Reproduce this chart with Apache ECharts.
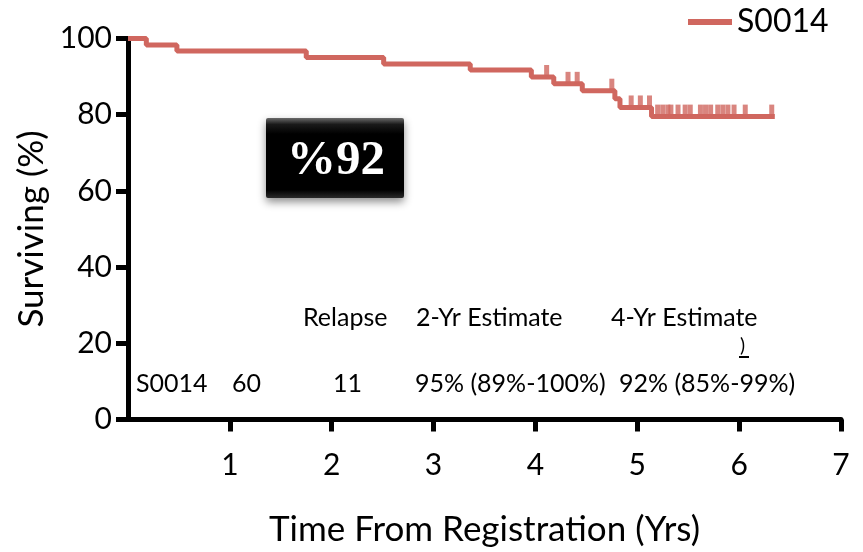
<!DOCTYPE html>
<html>
<head>
<meta charset="utf-8">
<script src="https://cdn.jsdelivr.net/npm/echarts@6/dist/echarts.min.js"></script>
<style>
html,body{margin:0;padding:0;background:#fff;}
#chart{width:863px;height:552px;}
</style>
</head>
<body>
<div id="chart"></div>
<script>
// Kaplan-Meier step points (time in years, survival %)
const eventTimes = [0, 0.18, 0.48, 1.75, 2.51, 3.36, 3.96, 4.18, 4.46, 4.78, 4.83, 5.14, 6.35];
const survival   = [100, 98.3, 96.7, 95.0, 93.3, 91.7, 89.9, 88.1, 86.3, 84.2, 81.9, 79.5, 79.5];
// censored observations (time in years)
const censorTimes = [4.11, 4.32, 4.41, 4.75, 4.94, 5.03, 5.12, 5.20, 5.25, 5.30, 5.33, 5.40, 5.47,
                     5.52, 5.62, 5.67, 5.72, 5.79, 5.84, 5.89, 5.95, 6.06, 6.32];
const xTicks = [1, 2, 3, 4, 5, 6, 7];
const yTicks = [0, 20, 40, 60, 80, 100];
const seriesName = 'S0014';
const tableHeader = ['Relapse', '2-Yr Estimate', '4-Yr Estimate'];
const tableRow = ['S0014', '60', '11', '95% (89%-100%)', '92% (85%-99%)'];
const boxLabel = '%92';

const lineColor = '#d0675f';
const font = 'Lato, "Open Sans", sans-serif';

function levelAt(t) {
  let v = survival[0];
  for (let i = 0; i < eventTimes.length; i++) {
    if (eventTimes[i] <= t) v = survival[i];
  }
  return v;
}

const kmData = eventTimes.map((t, i) => [t, survival[i]]);
const censorData = censorTimes.map(t => [t, levelAt(t)]);

const chart = echarts.init(document.getElementById('chart'));
chart.setOption({
  animation: false,
  backgroundColor: '#fff',
  grid: { left: 128, right: 22, top: 38.5, bottom: 132.5, outerBoundsMode: 'none' },
  legend: {
    data: [seriesName],
    left: 683, top: 1,
    icon: 'rect', itemWidth: 44, itemHeight: 6, itemGap: 10,
    textStyle: { fontFamily: font, fontSize: 32, color: '#000', padding: [0, 0, 0, 0] }
  },
  xAxis: {
    type: 'value', min: 0, max: 7, interval: 1,
    name: 'Time From Registration (Yrs)', nameLocation: 'middle', nameGap: 93,
    nameTextStyle: { fontFamily: font, fontSize: 35, color: '#000' },
    axisLine: { show: true, lineStyle: { color: '#000', width: 5 } },
    axisTick: { show: true, length: 12, lineStyle: { color: '#000', width: 5 }, customValues: xTicks },
    axisLabel: { fontFamily: font, fontSize: 30, color: '#000', margin: 31, customValues: xTicks },
    splitLine: { show: false }
  },
  yAxis: {
    type: 'value', min: 0, max: 100, interval: 20,
    name: 'Surviving (%)', nameLocation: 'middle', nameGap: 74, nameRotate: 90,
    nameTextStyle: { fontFamily: font, fontSize: 35, color: '#000' },
    axisLine: { show: true, lineStyle: { color: '#000', width: 5 } },
    axisTick: { show: true, length: 12, lineStyle: { color: '#000', width: 5 }, customValues: yTicks },
    axisLabel: { fontFamily: font, fontSize: 30, color: '#000', margin: 16, customValues: yTicks },
    splitLine: { show: false }
  },
  series: [
    {
      name: seriesName, type: 'line', step: 'end', data: kmData,
      showSymbol: false, symbol: 'none',
      lineStyle: { color: lineColor, width: 5 }, itemStyle: { color: lineColor },
      z: 3
    },
    {
      name: 'censored', type: 'scatter', data: censorData,
      symbol: 'rect', symbolSize: [5, 12], symbolOffset: [0, -6],
      itemStyle: { color: lineColor }, z: 3
    }
  ],
  graphic: [
    { type: 'text', left: 303, top: 305, style: { text: tableHeader[0], font: '25px ' + font, fill: '#000' } },
    { type: 'text', left: 416, top: 305, style: { text: tableHeader[1], font: '25px ' + font, fill: '#000' } },
    { type: 'text', left: 611, top: 305, style: { text: tableHeader[2], font: '25px ' + font, fill: '#000' } },
    { type: 'text', left: 740, top: 336, style: { text: ')', font: '19px ' + font, fill: '#000' } },
    { type: 'rect', shape: { x: 739, y: 356, width: 10, height: 2 }, style: { fill: '#000' } },
    { type: 'text', left: 136, top: 371, style: { text: tableRow[0], font: '25px ' + font, fill: '#000' } },
    { type: 'text', left: 232, top: 371, style: { text: tableRow[1], font: '25px ' + font, fill: '#000' } },
    { type: 'text', left: 333, top: 371, style: { text: tableRow[2], font: '25px ' + font, fill: '#000' } },
    { type: 'text', left: 415, top: 371, style: { text: tableRow[3], font: '25px ' + font, fill: '#000' } },
    { type: 'text', left: 619, top: 371, style: { text: tableRow[4], font: '25px ' + font, fill: '#000' } },
    {
      type: 'rect', shape: { x: 266, y: 118, width: 138, height: 80, r: 2 },
      style: {
        fill: new echarts.graphic.LinearGradient(0, 0, 0, 1, [
          { offset: 0, color: '#6a6a6a' },
          { offset: 0.08, color: '#1a1a1a' },
          { offset: 0.2, color: '#000' },
          { offset: 0.9, color: '#000' },
          { offset: 1, color: '#2a2a2a' }
        ]),
        shadowBlur: 8, shadowOffsetY: 4, shadowColor: 'rgba(0,0,0,0.45)'
      }
    },
    {
      type: 'text',
      style: {
        text: boxLabel, x: 336, y: 161, align: 'center', verticalAlign: 'middle',
        font: 'bold 49px "Liberation Serif", "DejaVu Serif", serif', fill: '#fff'
      }
    }
  ]
});
</script>
</body>
</html>
